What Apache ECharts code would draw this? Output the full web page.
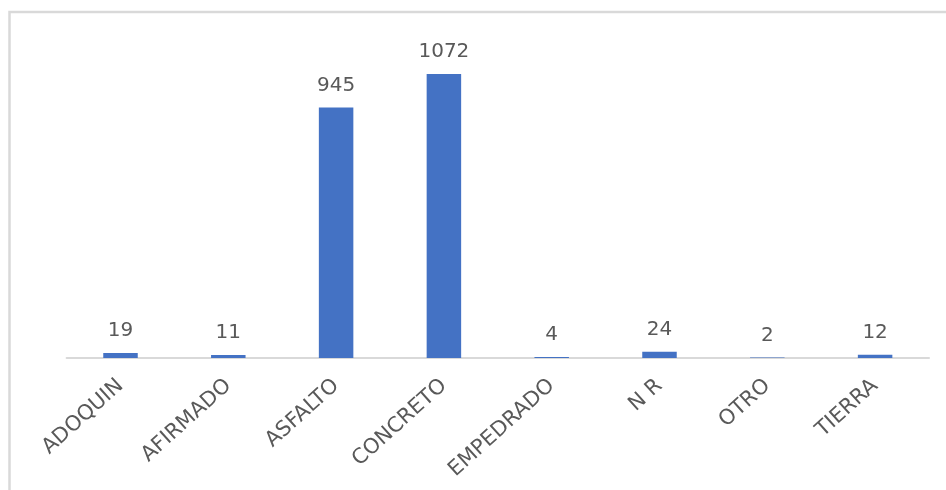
<!DOCTYPE html>
<html>
<head>
<meta charset="utf-8">
<script src="https://cdn.jsdelivr.net/npm/echarts@6/dist/echarts.min.js"></script>
<style>
  html, body { margin: 0; padding: 0; background: #fff; }
  #chart { width: 946px; height: 490px; }
</style>
</head>
<body>
<div id="chart"></div>
<script>
// Road surface types and their counts
const categories = ['ADOQUIN', 'AFIRMADO', 'ASFALTO', 'CONCRETO', 'EMPEDRADO', 'N R', 'OTRO', 'TIERRA'];
const counts = [19, 11, 945, 1072, 4, 24, 2, 12];

const chart = echarts.init(document.getElementById('chart'));
chart.setOption({
  animation: false,
  backgroundColor: '#ffffff',
  graphic: [{
    type: 'rect',
    shape: { x: 9.5, y: 12, width: 1000, height: 1000 },
    style: { fill: 'none', stroke: '#d9d9d9', lineWidth: 2.5 },
    silent: true
  }],
  grid: { left: 66.6, right: 17, top: 40, bottom: 132 },
  xAxis: {
    type: 'category',
    data: categories,
    axisLine: { show: true, lineStyle: { color: '#d9d9d9', width: 2 } },
    axisTick: { show: false },
    axisLabel: {
      rotate: 42,
      margin: 25,
      color: '#595959',
      fontFamily: 'DejaVu Sans',
      fontSize: 21,
      interval: 0
    }
  },
  yAxis: {
    type: 'value',
    min: 0,
    max: 1200,
    show: false,
    splitLine: { show: false }
  },
  series: [{
    type: 'bar',
    data: counts,
    barWidth: '32%',
    itemStyle: { color: '#4472c4' },
    label: {
      show: true,
      position: 'top',
      distance: 12,
      color: '#595959',
      fontFamily: 'DejaVu Sans',
      fontSize: 20
    }
  }]
});
</script>
</body>
</html>
